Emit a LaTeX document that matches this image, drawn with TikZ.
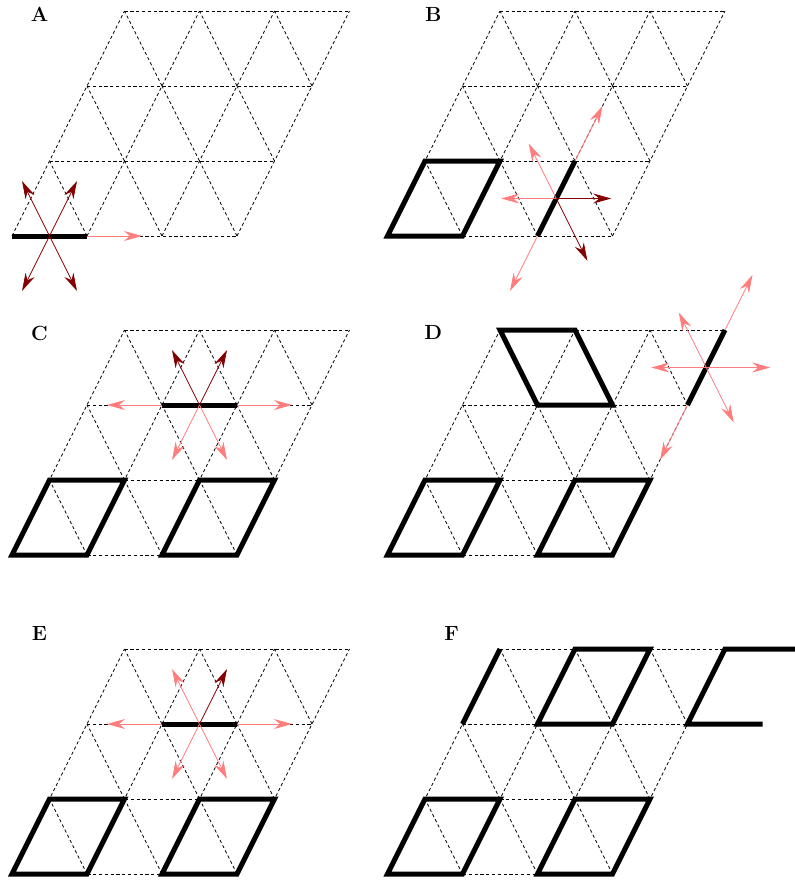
\documentclass[tikz,border=0pt]{standalone}
\usetikzlibrary{arrows.meta}
\definecolor{dred}{RGB}{130,0,0}
\definecolor{lpink}{RGB}{255,125,125}
\tikzset{
  latline/.style={line width=0.75pt, dash pattern=on 3.2pt off 2.6pt, black},
  thickedge/.style={line width=5pt, line join=miter, line cap=butt, black},
  arr/.style={line width=0.85pt, -{Stealth[length=18pt,width=10pt,inset=6pt]}},
  arrdark/.style={arr, dred},
  arrlight/.style={arr, lpink},
  lbl/.style={font=\fontsize{20.5}{22}\selectfont\bfseries, inner sep=0pt},
  panel/.style={x={(75pt,0pt)}, y={(37.5pt,75pt)}}
}
\newcommand\drawlattice{%
  \foreach \j in {0,...,3} {\draw[latline] (0,\j) -- (3,\j);}
  \foreach \i in {0,...,3} {\draw[latline] (\i,0) -- (\i,3);}
  \foreach \i in {0,1,2} {\foreach \j in {0,1,2} {\draw[latline] (\i+1,\j) -- (\i,\j+1);}}
}
\begin{document}
\begin{tikzpicture}
\useasboundingbox (0pt,0pt) rectangle (795pt,-881pt);
\clip (0pt,0pt) rectangle (795pt,-881pt);

% labels
\node[lbl] (labA) at (39.7pt,-14pt) {A};
\node[lbl] (labB) at (433.3pt,-14pt) {B};
\node[lbl] (labC) at (39.5pt,-333.3pt) {C};
\node[lbl] (labD) at (433.3pt,-332.7pt) {D};
\node[lbl] (labE) at (39.5pt,-633.3pt) {E};
\node[lbl] (labF) at (451.7pt,-633.5pt) {F};

% ---------- Panel A ----------
\begin{scope}[shift={(12pt,-236pt)}, panel]
  \drawlattice
  \draw[thickedge] (0,0) -- (1,0);
  \coordinate (eA1) at (1,0);
  \coordinate (cA) at (0.5,0);
  \draw[arrlight] (eA1) -- ++(0.733,0);
  \draw[arrdark] (cA) -- ++(0,0.733);
  \draw[arrdark] (cA) -- ++(-0.733,0.733);
  \draw[arrdark] (cA) -- ++(0,-0.733);
  \draw[arrdark] (cA) -- ++(0.733,-0.733);
\end{scope}

% ---------- Panel B ----------
\begin{scope}[shift={(387.5pt,-236pt)}, panel]
  \drawlattice
  \draw[thickedge] (0,0) -- (1,0) -- (1,1) -- (0,1) -- cycle;
  \draw[thickedge] (2,0) -- (2,1);
  \coordinate (cB) at (2,0.5);
  \coordinate (tB) at (2,1);
  \coordinate (bB) at (2,0);
  \draw[arrlight] (tB) -- ++(0,0.733);
  \draw[arrlight] (bB) -- ++(0,-0.733);
  \draw[arrlight] (cB) -- ++(-0.733,0);
  \draw[arrdark] (cB) -- ++(0.733,0);
  \draw[arrlight] (cB) -- ++(-0.733,0.733);
  \draw[arrdark] (cB) -- ++(0.83,-0.83);
\end{scope}

% ---------- Panel C ----------
\begin{scope}[shift={(12pt,-555pt)}, panel]
  \drawlattice
  \draw[thickedge] (0,0) -- (1,0) -- (1,1) -- (0,1) -- cycle;
  \draw[thickedge] (2,0) -- (3,0) -- (3,1) -- (2,1) -- cycle;
  \draw[thickedge] (1,2) -- (2,2);
  \coordinate (cC) at (1.5,2);
  \coordinate (lC) at (1,2);
  \coordinate (rC) at (2,2);
  \draw[arrlight] (lC) -- ++(-0.733,0);
  \draw[arrlight] (rC) -- ++(0.733,0);
  \draw[arrdark] (cC) -- ++(-0.733,0.733);
  \draw[arrdark] (cC) -- ++(0,0.733);
  \draw[arrlight] (cC) -- ++(0,-0.733);
  \draw[arrlight] (cC) -- ++(0.733,-0.733);
\end{scope}

% ---------- Panel D ----------
\begin{scope}[shift={(387.5pt,-555pt)}, panel]
  \drawlattice
  \draw[thickedge] (0,0) -- (1,0) -- (1,1) -- (0,1) -- cycle;
  \draw[thickedge] (2,0) -- (3,0) -- (3,1) -- (2,1) -- cycle;
  \draw[thickedge] (1,2) -- (2,2) -- (1,3) -- (0,3) -- cycle;
  \draw[thickedge] (3,2) -- (3,3);
  \coordinate (cD) at (3,2.5);
  \coordinate (tD) at (3,3);
  \coordinate (bD) at (3,2);
  \draw[arrlight] (tD) -- ++(0,0.733);
  \draw[arrlight] (bD) -- ++(0,-0.733);
  \draw[arrlight] (cD) -- ++(-0.733,0);
  \draw[arrlight] (cD) -- ++(0.853,0);
  \draw[arrlight] (cD) -- ++(-0.733,0.733);
  \draw[arrlight] (cD) -- ++(0.733,-0.733);
\end{scope}

% ---------- Panel E ----------
\begin{scope}[shift={(12pt,-874pt)}, panel]
  \drawlattice
  \draw[thickedge] (0,0) -- (1,0) -- (1,1) -- (0,1) -- cycle;
  \draw[thickedge] (2,0) -- (3,0) -- (3,1) -- (2,1) -- cycle;
  \draw[thickedge] (1,2) -- (2,2);
  \coordinate (cE) at (1.5,2);
  \coordinate (lE) at (1,2);
  \coordinate (rE) at (2,2);
  \draw[arrlight] (lE) -- ++(-0.733,0);
  \draw[arrlight] (rE) -- ++(0.733,0);
  \draw[arrlight] (cE) -- ++(-0.733,0.733);
  \draw[arrdark] (cE) -- ++(0,0.733);
  \draw[arrlight] (cE) -- ++(0,-0.733);
  \draw[arrlight] (cE) -- ++(0.733,-0.733);
\end{scope}

% ---------- Panel F ----------
\begin{scope}[shift={(387.5pt,-874pt)}, panel]
  \drawlattice
  \draw[thickedge] (0,0) -- (1,0) -- (1,1) -- (0,1) -- cycle;
  \draw[thickedge] (2,0) -- (3,0) -- (3,1) -- (2,1) -- cycle;
  \draw[thickedge] (1,2) -- (2,2) -- (2,3) -- (1,3) -- cycle;
  \draw[thickedge] (0,2) -- (0,3);
  \draw[thickedge] (4,2) -- (3,2) -- (3,3) -- (5,3);
\end{scope}
\end{tikzpicture}
\end{document}
